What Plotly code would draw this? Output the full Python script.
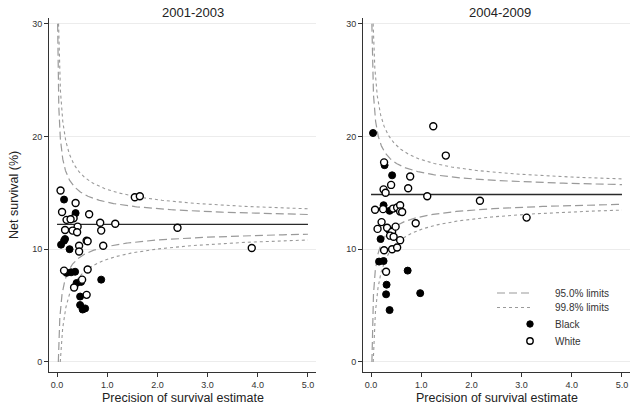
import numpy as np
import plotly.graph_objects as go

W, H = 635, 414

# ---- data ----
panel_titles = ["2001-2003", "2004-2009"]
target_means = [12.2, 14.85]
z_95 = 1.96
z_998 = 3.09

left_black_x = [0.14, 0.37, 0.16, 0.14, 0.08, 0.25, 0.19, 0.28, 0.36, 0.88, 0.39, 0.48, 0.46, 0.46, 0.51, 0.56]
left_black_y = [14.4, 13.2, 10.9, 10.75, 10.4, 10.0, 7.9, 7.95, 8.0, 7.3, 7.0, 7.1, 5.8, 5.05, 4.65, 4.75]

left_white_x = [0.07, 0.37, 0.10, 0.64, 0.33, 0.19, 0.27, 0.86, 1.16, 0.16, 0.41, 0.31, 0.40, 0.88,
                0.59, 0.61, 0.44, 0.92, 0.44, 0.14, 0.61, 0.50, 0.34, 0.59, 1.55, 1.65, 2.40, 3.88]
left_white_y = [15.2, 14.1, 13.3, 13.1, 12.75, 12.6, 12.65, 12.35, 12.25, 11.7, 12.0, 11.65, 11.5, 11.65,
                10.75, 10.7, 10.3, 10.3, 9.8, 8.1, 8.2, 7.3, 6.6, 5.95, 14.6, 14.7, 11.9, 10.1]

right_black_x = [0.04, 0.27, 0.42, 0.25, 0.37, 0.36, 0.19, 0.16, 0.25, 0.73, 0.31, 0.30, 0.98, 0.37]
right_black_y = [20.3, 17.45, 16.55, 13.9, 13.4, 11.7, 10.9, 8.9, 8.95, 8.1, 6.85, 6.0, 6.1, 4.6]

right_white_x = [0.26, 0.78, 0.40, 0.25, 0.29, 0.74, 1.12, 2.17, 0.08, 0.24, 0.44, 0.52, 0.58, 0.58,
                 0.62, 0.89, 0.21, 0.13, 0.32, 0.42, 0.49, 0.38, 0.45, 0.58, 0.26, 0.42, 0.52, 0.30,
                 1.24, 1.49, 3.10]
right_white_y = [17.7, 16.45, 15.7, 15.3, 15.0, 15.4, 14.7, 14.3, 13.5, 13.55, 13.6, 13.7, 13.9, 13.35,
                 13.3, 12.3, 12.4, 11.8, 11.9, 11.55, 12.0, 11.2, 11.1, 10.8, 9.9, 10.0, 10.15, 8.0,
                 20.9, 18.3, 12.8]

legend_labels = ["95.0% limits", "99.8% limits", "Black", "White"]

x_ticks = [0, 1, 2, 3, 4, 5]
x_tick_labels = ["0.0", "1.0", "2.0", "3.0", "4.0", "5.0"]
y_ticks = [0, 10, 20, 30]
y_tick_labels = ["0", "10", "20", "30"]

# ---- layout geometry (pixels) ----
panels_px = [(49, 316), (363, 630)]
title_cx_px = [193, 500]
top_px, bot_px = 18, 372
x_range = [-0.16, 5.16]
y_range = [-0.89, 30.5]
x_max = 5.0
y_lo, y_hi = 0.0, 30.0

FONT = "Liberation Sans, Arial, sans-serif"
GREY = "#9a9a9a"
DASH_95 = "8px,4px"
DASH_998 = "3px,3px"

fig = go.Figure()

series = [
    (left_black_x, left_black_y, left_white_x, left_white_y),
    (right_black_x, right_black_y, right_white_x, right_white_y),
]


def funnel(mean, z, sign):
    if sign > 0:
        x0 = (z / (y_hi - mean)) ** 2
    else:
        x0 = (z / (mean - y_lo)) ** 2
    xs = np.geomspace(x0, x_max, 300)
    ys = mean + sign * z / np.sqrt(xs)
    return xs, ys


for i in range(2):
    xa = "x" if i == 0 else "x2"
    ya = "y" if i == 0 else "y2"
    mean = target_means[i]
    for z, dash, w in [(z_95, DASH_95, 1.2), (z_998, DASH_998, 1.1)]:
        for sign in [1, -1]:
            xs, ys = funnel(mean, z, sign)
            fig.add_trace(go.Scatter(x=xs, y=ys, mode="lines", xaxis=xa, yaxis=ya,
                                     line=dict(color=GREY, width=w, dash=dash),
                                     showlegend=False, hoverinfo="skip"))
    fig.add_trace(go.Scatter(x=[0, x_max], y=[mean, mean], mode="lines", xaxis=xa, yaxis=ya,
                             line=dict(color="#2a2a2a", width=1.3), showlegend=False,
                             hoverinfo="skip"))
    bx, by, wx, wy = series[i]
    fig.add_trace(go.Scatter(x=bx, y=by, mode="markers", xaxis=xa, yaxis=ya,
                             marker=dict(symbol="circle", size=7, color="black",
                                         line=dict(color="black", width=1)),
                             name="Black", showlegend=False))
    fig.add_trace(go.Scatter(x=wx, y=wy, mode="markers", xaxis=xa, yaxis=ya,
                             marker=dict(symbol="circle", size=7, color="white",
                                         line=dict(color="black", width=1.4)),
                             name="White", showlegend=False))

ydom = [(H - bot_px) / H, (H - top_px) / H]
axis_common = dict(showline=True, linecolor="#333", linewidth=1, ticks="outside",
                   ticklen=4, tickcolor="#333", tickwidth=1, zeroline=False,
                   tickfont=dict(family=FONT, size=9, color="#333"))

annotations = []
shapes = []
layout = dict(
    width=W, height=H,
    margin=dict(l=0, r=0, t=0, b=0),
    paper_bgcolor="white", plot_bgcolor="white",
    font=dict(family=FONT, color="#222"),
    showlegend=False,
)
for i, (l, r) in enumerate(panels_px):
    sx = "" if i == 0 else "2"
    layout["xaxis" + sx] = dict(domain=[l / W, r / W], range=x_range, tickvals=x_ticks,
                                ticktext=x_tick_labels, showgrid=False,
                                anchor="y" + sx, **axis_common)
    layout["yaxis" + sx] = dict(domain=ydom, range=y_range, tickvals=y_ticks,
                                ticktext=y_tick_labels, showgrid=True, gridcolor="#ececec",
                                gridwidth=1, anchor="x" + sx, **axis_common)
    annotations.append(dict(text=panel_titles[i], x=title_cx_px[i] / W,
                            y=(H - 12) / H, xref="paper", yref="paper",
                            showarrow=False, xanchor="center", yanchor="middle",
                            font=dict(family=FONT, size=13, color="#222")))
    annotations.append(dict(text="Precision of survival estimate",
                            x=(l + r) / 2 / W, y=(H - 398) / H, xref="paper",
                            yref="paper", showarrow=False, xanchor="center",
                            yanchor="middle",
                            font=dict(family=FONT, size=12.5, color="#222")))
annotations.append(dict(text="Net survival (%)", x=14 / W, y=(H - 195) / H,
                        xref="paper", yref="paper", showarrow=False, textangle=-90,
                        xanchor="center", yanchor="middle",
                        font=dict(family=FONT, size=12.5, color="#222")))

# ---- manual legend (inside right panel) ----
leg_rows_px = [293, 307.5, 324, 341]
leg_line_x = (497, 532)
leg_mark_x = 530
leg_text_x = 553
for k, label in enumerate(legend_labels):
    yp = (H - leg_rows_px[k]) / H
    if k < 2:
        shapes.append(dict(type="line", xref="paper", yref="paper",
                           x0=leg_line_x[0] / W, x1=leg_line_x[1] / W, y0=yp, y1=yp,
                           line=dict(color=GREY, width=1.2 if k == 0 else 1.1,
                                     dash=DASH_95 if k == 0 else DASH_998)))
    else:
        filled = k == 2
        shapes.append(dict(type="circle", xref="paper", yref="paper",
                           xsizemode="pixel", ysizemode="pixel",
                           xanchor=leg_mark_x / W, yanchor=yp,
                           x0=-3.2, x1=3.2, y0=-3.2, y1=3.2,
                           fillcolor="black" if filled else "white",
                           line=dict(color="black", width=1 if filled else 1.4)))
    annotations.append(dict(text=label, x=leg_text_x / W, y=yp, xref="paper", yref="paper",
                            showarrow=False, xanchor="left", yanchor="middle",
                            font=dict(family=FONT, size=10, color="#333")))

layout["annotations"] = annotations
layout["shapes"] = shapes
fig.update_layout(**layout)
fig.write_html("out.html", config={"displayModeBar": False},
               post_script="document.body.style.margin='0';")
